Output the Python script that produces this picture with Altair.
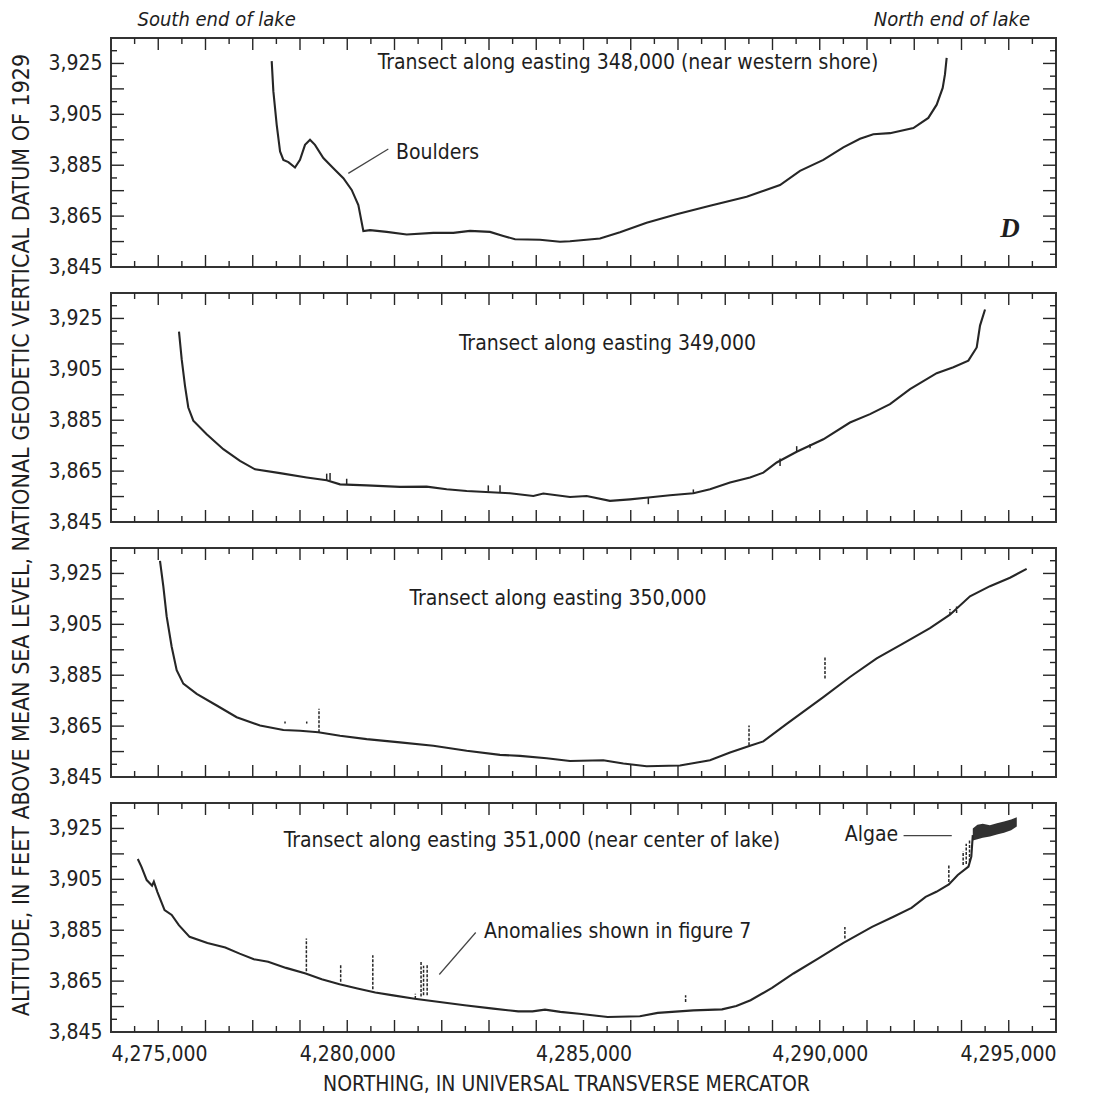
import altair as alt
import pandas as pd

FONT = "Liberation Sans Narrow, DejaVu Sans Condensed, sans-serif"
INK = "#262626"

X_LABELS = [4275000, 4280000, 4285000, 4290000, 4295000]
Y_LABELS = [3845, 3865, 3885, 3905, 3925]
X_TICKS_LONG = list(range(4276000, 4295000, 1000))
X_TICKS_SHORT = list(range(4275500, 4295000, 1000))
Y_TICKS_LONG = [3855, 3865, 3875, 3885, 3895, 3905, 3915, 3925]
Y_TICKS_SHORT = [3850, 3860, 3870, 3880, 3890, 3900, 3910, 3920, 3930]

# Panel 1 : easting 348,000
P1_N = [4278401, 4278436, 4278507, 4278578, 4278648, 4278754, 4278894, 4279000, 4279106, 4279212,
        4279317, 4279494, 4279706, 4279918, 4280094, 4280235, 4280341, 4280482, 4280835, 4281258,
        4281822, 4282245, 4282598, 4283021, 4283303, 4283551, 4284079, 4284503, 4284714, 4285349,
        4285772, 4286336, 4286971, 4287677, 4288453, 4289159, 4289582, 4290076, 4290499, 4290852,
        4291134, 4291487, 4291981, 4292298, 4292475, 4292602, 4292650, 4292686]
P1_Z = [3925.9, 3914.1, 3900.9, 3890.4, 3887.1, 3886.2, 3884.1, 3887.1, 3893.0, 3895.0,
        3893.0, 3887.8, 3883.8, 3879.9, 3875.3, 3869.3, 3859.1, 3859.5, 3858.8, 3857.8,
        3858.4, 3858.4, 3859.2, 3858.8, 3857.2, 3855.9, 3855.7, 3854.9, 3855.1, 3856.2,
        3858.7, 3862.4, 3865.7, 3869.1, 3872.6, 3877.2, 3882.8, 3887.1, 3892.0, 3895.4,
        3897.2, 3897.6, 3899.6, 3903.6, 3908.8, 3915.4, 3920.7, 3927.2]

# Panel 2 : easting 349,000
P2_N = [4276439, 4276496, 4276566, 4276636, 4276742, 4277025, 4277377, 4277730, 4278048, 4278577,
        4279142, 4279565, 4279847, 4280411, 4281116, 4281681, 4282104, 4282528, 4283444, 4283938,
        4284149, 4284714, 4285067, 4285560, 4285984, 4286372, 4286831, 4287325, 4287677, 4288101,
        4288524, 4288806, 4289089, 4289512, 4290076, 4290640, 4291064, 4291487, 4291910, 4292475,
        4292828, 4293145, 4293322, 4293392, 4293498]
P2_Z = [3919.8, 3909.0, 3898.5, 3890.0, 3884.8, 3879.5, 3873.6, 3869.0, 3865.7, 3864.2,
        3862.5, 3861.4, 3859.8, 3859.4, 3858.8, 3858.9, 3857.9, 3857.2, 3856.3, 3855.2,
        3856.2, 3854.8, 3855.2, 3853.3, 3853.9, 3854.6, 3855.5, 3856.3, 3857.9, 3860.5,
        3862.5, 3864.4, 3868.4, 3872.6, 3877.5, 3884.1, 3887.4, 3891.3, 3897.2, 3903.5,
        3905.8, 3908.4, 3913.6, 3922.2, 3928.5]

# Panel 3 : easting 350,000
P3_N = [4276037, 4276107, 4276178, 4276284, 4276390, 4276530, 4276814, 4277237, 4277660, 4278154,
        4278648, 4279000, 4279388, 4279847, 4280411, 4281116, 4281822, 4282528, 4283233, 4283656,
        4284220, 4284714, 4285419, 4285843, 4286336, 4287042, 4287677, 4288101, 4288524, 4288806,
        4289300, 4290076, 4290640, 4291205, 4291769, 4292333, 4292756, 4293180, 4293603, 4294026,
        4294379]
P3_Z = [3929.9, 3920.0, 3908.1, 3896.2, 3887.0, 3881.7, 3877.7, 3873.1, 3868.5, 3865.2,
        3863.5, 3863.2, 3862.6, 3861.2, 3859.9, 3858.6, 3857.3, 3855.3, 3853.7, 3853.3,
        3852.4, 3851.3, 3851.6, 3850.3, 3849.2, 3849.5, 3851.6, 3854.6, 3857.3, 3859.0,
        3865.9, 3876.4, 3884.3, 3891.6, 3897.5, 3903.5, 3908.8, 3916.0, 3920.0, 3923.3,
        3926.8]

# Panel 4 : easting 351,000
P4_N = [4275567, 4275643, 4275756, 4275869, 4275907, 4275983, 4276134, 4276285, 4276436, 4276663,
        4277041, 4277419, 4277722, 4278024, 4278326, 4278704, 4279120, 4279460, 4279838, 4280216,
        4280594, 4280972, 4281426, 4281955, 4282484, 4283089, 4283618, 4283920, 4284185, 4284510,
        4284907, 4285512, 4286193, 4286571, 4287327, 4287932, 4288234, 4288536, 4288990, 4289444,
        4289973, 4290502, 4291107, 4291560, 4291942, 4292241, 4292468, 4292732, 4292921, 4293148,
        4293208, 4293239]
P4_Z = [3913.0, 3910.0, 3904.7, 3902.5, 3904.1, 3900.0, 3892.9, 3891.0, 3887.0, 3882.4,
        3880.0, 3878.2, 3875.8, 3873.6, 3872.6, 3870.2, 3868.0, 3865.7, 3863.8, 3862.1,
        3860.5, 3859.4, 3858.1, 3856.8, 3855.5, 3854.2, 3853.1, 3853.1, 3853.8, 3852.9,
        3852.2, 3850.9, 3851.2, 3852.5, 3853.5, 3853.9, 3855.2, 3857.5, 3862.3, 3868.0,
        3873.9, 3880.0, 3886.3, 3890.3, 3893.8, 3898.1, 3900.1, 3903.0, 3906.7, 3910.0,
        3913.9, 3922.4]

ALGAE_N = [4293239, 4293337, 4293450, 4293601, 4293750, 4293900, 4294050, 4294170]
ALGAE_LO = [3920.3, 3920.8, 3921.3, 3921.8, 3922.6, 3923.3, 3924.3, 3925.8]
ALGAE_HI = [3925.0, 3926.5, 3926.8, 3926.3, 3927.0, 3927.7, 3928.5, 3929.4]

# spikes / anomalies (northing, low, high)
P2_SPK_N = [4279565, 4279636, 4279988, 4282985, 4283233, 4286372, 4287325, 4289160, 4289512, 4289795]
P2_SPK_LO = [3861.4, 3861.3, 3859.8, 3857.0, 3856.6, 3852.0, 3856.3, 3867.0, 3872.6, 3874.0]
P2_SPK_HI = [3864.0, 3864.3, 3862.0, 3859.4, 3859.4, 3854.6, 3857.8, 3870.0, 3874.8, 3875.6]

P3_SPK_N = [4278683, 4279142, 4279402, 4288503, 4290111, 4292756, 4292896]
P3_SPK_LO = [3866.0, 3866.0, 3862.6, 3857.5, 3883.7, 3908.8, 3909.5]
P3_SPK_HI = [3866.8, 3866.8, 3871.8, 3865.2, 3892.3, 3911.0, 3912.0]

P4_SPK_N = [4279135, 4279861, 4280541, 4281441, 4281562, 4281615, 4281691, 4287161, 4290532,
            4292732, 4293035, 4293100, 4293170]
P4_SPK_LO = [3868.9, 3864.7, 3861.8, 3858.0, 3859.0, 3859.4, 3859.4, 3856.8, 3881.7,
             3904.0, 3910.6, 3911.0, 3912.0]
P4_SPK_HI = [3881.7, 3871.5, 3875.2, 3860.0, 3872.6, 3871.0, 3871.8, 3859.4, 3886.3,
             3910.6, 3916.0, 3919.0, 3920.5]

TITLES = ["Transect along easting 348,000 (near western shore)",
          "Transect along easting 349,000",
          "Transect along easting 350,000",
          "Transect along easting 351,000 (near center of lake)"]
TITLE_N = [4285942, 4285508, 4284461, 4283910]
TITLE_Z = [3925, 3915, 3915, 3920]

Y_TITLE = "ALTITUDE, IN FEET ABOVE MEAN SEA LEVEL, NATIONAL GEODETIC VERTICAL DATUM OF 1929"
X_TITLE = "NORTHING, IN UNIVERSAL TRANSVERSE MERCATOR"

W = 945
H = 229
XS = alt.Scale(domain=[4275000, 4295000], nice=False, zero=False)
YS = alt.Scale(domain=[3845, 3935], nice=False, zero=False)

YAX = alt.Axis(values=Y_LABELS, format=",d", title=None, ticks=False, tickSize=0, domain=False,
               grid=False, labelPadding=9, labelFont=FONT, labelFontSize=21, labelColor="#222")


def xe(field, xax):
    return alt.X(field, type="quantitative", scale=XS, axis=xax)


def ye(field):
    return alt.Y(field, type="quantitative", scale=YS, axis=YAX)


def ticks_layers(xax):
    layers = []
    for vals, ln in [(X_TICKS_LONG, 12), (X_TICKS_SHORT, 6)]:
        d = pd.DataFrame({"n": vals})
        layers.append(alt.Chart(d).mark_rule(color=INK, strokeWidth=1.4).encode(
            x=xe("n", xax), y=alt.value(H), y2=alt.value(H - ln)))
        layers.append(alt.Chart(d).mark_rule(color=INK, strokeWidth=1.4).encode(
            x=xe("n", xax), y=alt.value(0), y2=alt.value(ln)))
    for vals, ln in [(Y_TICKS_LONG, 13), (Y_TICKS_SHORT, 6)]:
        d = pd.DataFrame({"z": vals})
        layers.append(alt.Chart(d).mark_rule(color=INK, strokeWidth=1.4).encode(
            y=ye("z"), x=alt.value(0), x2=alt.value(ln)))
        layers.append(alt.Chart(d).mark_rule(color=INK, strokeWidth=1.4).encode(
            y=ye("z"), x=alt.value(W), x2=alt.value(W - ln)))
    return layers


def text_layer(n, z, t, xax, align="center", size=21, style="normal", weight="normal", font=FONT):
    d = pd.DataFrame({"n": [n], "z": [z], "t": [t]})
    return alt.Chart(d).mark_text(align=align, baseline="middle", font=font, fontSize=size,
                                  fontStyle=style, fontWeight=weight, color="#1e1e1e").encode(
        x=xe("n", xax), y=ye("z"), text="t:N")


def leader(n1, z1, n2, z2, xax):
    d = pd.DataFrame({"n": [n1], "z": [z1], "n2": [n2], "z2": [z2]})
    return alt.Chart(d).mark_rule(color="#444", strokeWidth=1.2).encode(
        x=xe("n", xax), y=ye("z"), x2="n2:Q", y2="z2:Q")


def panel(idx, N, Z, spk, xax, extra=None, dashed=False):
    line = alt.Chart(pd.DataFrame({"n": N, "z": Z})).mark_line(
        color=INK, strokeWidth=2.1).encode(x=xe("n", xax), y=ye("z"))
    layers = [line]
    if spk is not None:
        d = pd.DataFrame({"n": spk[0], "lo": spk[1], "hi": spk[2]})
        kw = {"strokeDash": [3, 1.5]} if dashed else {}
        layers.append(alt.Chart(d).mark_rule(color=INK, strokeWidth=1.5, **kw).encode(
            x=xe("n", xax), y=ye("lo"), y2="hi:Q"))
    layers.append(text_layer(TITLE_N[idx], TITLE_Z[idx], TITLES[idx], xax))
    if extra:
        layers += extra
    layers += ticks_layers(xax)
    return alt.layer(*layers).properties(width=W, height=H)


NOAX = None
XAX4 = alt.Axis(values=X_LABELS, format=",d", title=X_TITLE, ticks=False, tickSize=0, domain=False,
                grid=False, labelPadding=11, labelFont=FONT, labelFontSize=21, labelColor="#222",
                titleFont=FONT, titleFontSize=21, titleFontWeight="normal", titleColor="#222",
                titlePadding=9, titleX=455)

p1_extra = [
    text_layer(4281032, 3889.7, "Boulders", NOAX, align="left"),
    leader(4280022, 3881.8, 4280869, 3891.4, NOAX),
    text_layer(4294027, 3860.0, "D", NOAX, size=27, style="italic", weight="bold",
               font="Liberation Serif, DejaVu Serif, serif"),
    alt.Chart(pd.DataFrame({"n": [4275561], "t": ["South end of lake"]})).mark_text(
        align="left", baseline="middle", font=FONT, fontSize=20, fontStyle="italic", color="#1e1e1e"
    ).encode(x=xe("n", NOAX), y=alt.value(-18), text="t:N"),
    alt.Chart(pd.DataFrame({"n": [4294450], "t": ["North end of lake"]})).mark_text(
        align="right", baseline="middle", font=FONT, fontSize=20, fontStyle="italic", color="#1e1e1e"
    ).encode(x=xe("n", NOAX), y=alt.value(-18), text="t:N"),
]
p2_extra = [
    alt.Chart(pd.DataFrame({"t": [Y_TITLE]})).mark_text(
        angle=270, align="center", baseline="middle", font=FONT, fontSize=23, color="#1e1e1e"
    ).encode(x=alt.value(-89), y=alt.value(H + 13), text="t:N"),
]
algae = alt.Chart(pd.DataFrame({"n": ALGAE_N, "lo": ALGAE_LO, "hi": ALGAE_HI})).mark_area(
    color="#262626", opacity=0.95).encode(x=xe("n", XAX4), y=ye("lo"), y2="hi:Q")
p4_extra = [
    algae,
    text_layer(4282894, 3884.4, "Anomalies shown in figure 7", XAX4, align="left"),
    leader(4281948, 3867.6, 4282719, 3884.1, XAX4),
    text_layer(4291660, 3922.4, "Algae", XAX4, align="right"),
    leader(4291774, 3922.2, 4292794, 3922.2, XAX4),
]

c1 = panel(0, P1_N, P1_Z, None, NOAX, p1_extra)
c2 = panel(1, P2_N, P2_Z, (P2_SPK_N, P2_SPK_LO, P2_SPK_HI), NOAX, p2_extra)
c3 = panel(2, P3_N, P3_Z, (P3_SPK_N, P3_SPK_LO, P3_SPK_HI), NOAX, None, dashed=True)
c4 = panel(3, P4_N, P4_Z, (P4_SPK_N, P4_SPK_LO, P4_SPK_HI), XAX4, p4_extra, dashed=True)

chart = alt.vconcat(c1, c2, c3, c4, spacing=26, bounds="flush").properties(
    padding={"left": 1, "top": 1, "right": 5, "bottom": 5}
).configure(background="white").configure_view(stroke="#333333", strokeWidth=2)

chart.save("out.html", embed_options={"renderer": "svg", "actions": False})
